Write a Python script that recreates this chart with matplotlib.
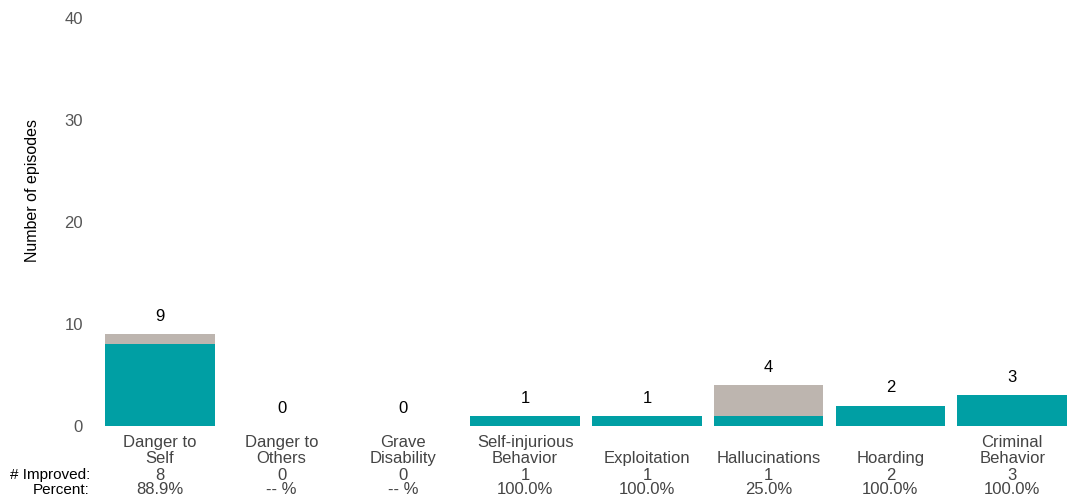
import matplotlib
matplotlib.use("Agg")
import matplotlib.pyplot as plt
from matplotlib.transforms import blended_transform_factory

plt.rcParams['font.family'] = ['Liberation Sans', 'DejaVu Sans']

# data
categories = ["Danger to\nSelf", "Danger to\nOthers", "Grave\nDisability", "Self-injurious\nBehavior",
              "Exploitation", "Hallucinations", "Hoarding", "Criminal\nBehavior"]
total = [9, 0, 0, 1, 1, 4, 2, 3]
improved = [8, 0, 0, 1, 1, 1, 2, 3]
not_improved = [t - i for t, i in zip(total, improved)]

teal = "#009FA4"
grey = "#BDB5AF"

fig = plt.figure(figsize=(10.67, 5.04), dpi=100)
ax = fig.add_axes([105 / 1067, 1 - 426 / 504, 962 / 1067, 408 / 504])

x = list(range(len(categories)))
ax.bar(x, improved, width=0.9, color=teal)
ax.bar(x, not_improved, bottom=improved, width=0.9, color=grey)

# totals above bars
for i, t in enumerate(total):
    ax.text(i, t + 1.0, str(t), ha="center", va="bottom", fontsize=12, color="black")

ax.set_xlim(-0.45, 7.45)
ax.set_ylim(0, 40)
ax.set_yticks([0, 10, 20, 30, 40])
ax.tick_params(axis="y", length=0, labelsize=12, labelcolor="#555555", pad=16)
ax.set_xticks([])
for s in ax.spines.values():
    s.set_visible(False)
ax.set_ylabel("Number of episodes", fontsize=11.5)
ax.yaxis.set_label_coords((40 - 105) / 962, (426 - 191) / 408)

# category labels + table rows under the bars
tr = blended_transform_factory(ax.transData, fig.transFigure)
for i, c in enumerate(categories):
    ax.text(i, 1 - 466 / 504, c, transform=tr, ha="center", va="bottom", fontsize=12,
            color="#444444", linespacing=1.1)
    ax.text(i, 1 - 475 / 504, str(improved[i]), transform=tr, ha="center", va="center",
            fontsize=12, color="#444444")
    pct = "-- %" if total[i] == 0 else "{:.1f}%".format(100 * improved[i] / total[i])
    ax.text(i, 1 - 490 / 504, pct, transform=tr, ha="center", va="center",
            fontsize=12, color="#444444")

fig.text(90 / 1067, 1 - 475 / 504, "# Improved:", ha="right", va="center", fontsize=11, color="black")
fig.text(90 / 1067, 1 - 490 / 504, "Percent:", ha="right", va="center", fontsize=11, color="black")

fig.savefig("out.png", dpi=100)
